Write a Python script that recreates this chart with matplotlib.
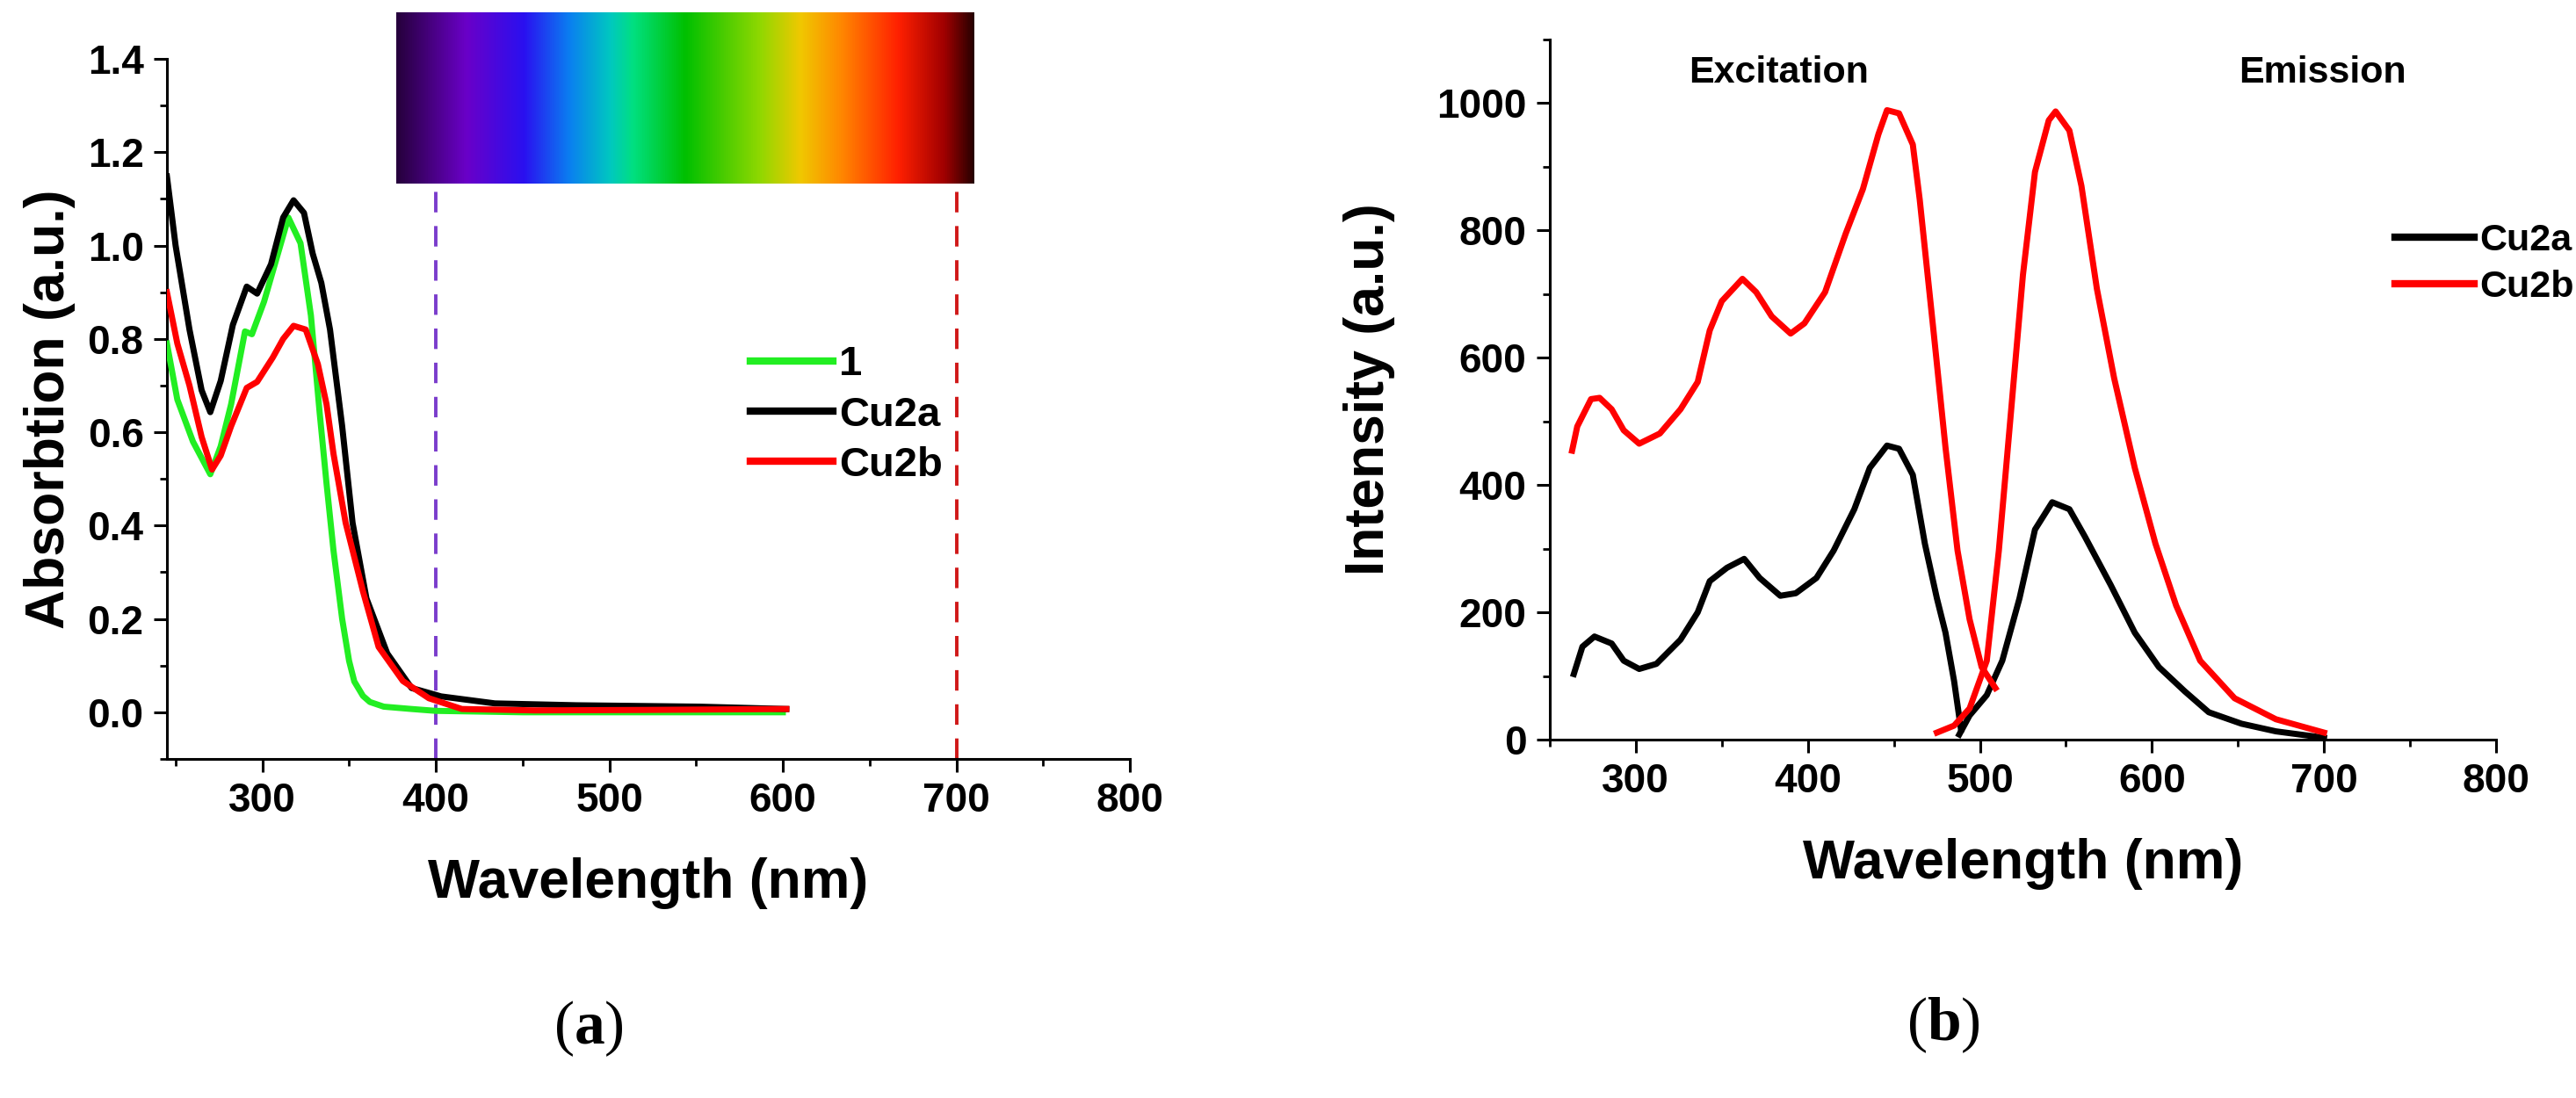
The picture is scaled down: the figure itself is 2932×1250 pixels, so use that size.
import numpy as np
import matplotlib
matplotlib.use('Agg')
import matplotlib.pyplot as plt
from matplotlib.colors import LinearSegmentedColormap
from matplotlib.ticker import MultipleLocator, FormatStrFormatter

plt.rcParams['font.family'] = ['Liberation Sans', 'DejaVu Sans']
plt.rcParams['font.weight'] = 'bold'
plt.rcParams['mathtext.fontset'] = 'custom'
plt.rcParams['mathtext.bf'] = 'Liberation Serif:bold'
plt.rcParams['mathtext.rm'] = 'Liberation Serif'

# ---- panel (a): absorption ----
wl_1 = [245, 251, 260, 270, 276, 282, 290, 294, 301, 308, 315, 322, 328, 333, 337, 341,
        346, 350, 353, 358, 362, 370, 386, 400, 450, 500, 550, 600]
abs_1 = [0.79, 0.67, 0.58, 0.51, 0.57, 0.66, 0.816, 0.81, 0.88, 0.97, 1.06, 1.005, 0.85, 0.643, 0.49, 0.347,
         0.20, 0.11, 0.066, 0.035, 0.022, 0.012, 0.007, 0.003, 0.0, 0.0, 0.0, 0.0]

wl_cu2a = [245, 250, 258, 265, 270, 276, 283, 291, 297, 305, 312, 318, 324, 329, 334, 339,
           346, 352, 360, 372, 386, 403, 434, 481, 552, 602]
abs_cu2a = [1.148, 1.00, 0.82, 0.69, 0.643, 0.71, 0.83, 0.912, 0.897, 0.96, 1.06, 1.097, 1.07, 0.983, 0.92, 0.82,
            0.613, 0.406, 0.244, 0.126, 0.052, 0.034, 0.019, 0.015, 0.012, 0.007]

wl_cu2b = [245, 251, 258, 265, 271, 276, 282, 291, 297, 306, 312, 318, 325, 332, 337, 341,
           348, 358, 367, 381, 396, 415, 457, 520, 602]
abs_cu2b = [0.90, 0.79, 0.70, 0.59, 0.52, 0.55, 0.613, 0.695, 0.708, 0.76, 0.80, 0.828, 0.82, 0.746, 0.66, 0.554,
            0.406, 0.259, 0.14, 0.067, 0.03, 0.007, 0.004, 0.005, 0.007]

spec_cols = ['#26003c', '#6a00c8', '#2a10f0', '#0a80f0', '#00c8c0', '#00e080', '#00c000',
             '#90d800', '#f0c800', '#ff8800', '#ff2000', '#a00000', '#280000']
spec_pos = [0.0, 0.12, 0.22, 0.30, 0.37, 0.41, 0.50, 0.63, 0.70, 0.77, 0.87, 0.95, 1.0]

# ---- panel (b): excitation / emission ----
ex_wl_cu2a = [264, 269, 276, 286, 293, 302, 312, 326, 336, 343, 353, 363, 372, 384, 393, 405,
              415, 427, 436, 446, 453, 461, 468, 475, 480, 485, 489]
ex_cu2a = [103, 146, 162, 151, 124, 111, 119, 157, 200, 249, 270, 284, 254, 226, 230, 254,
           297, 362, 427, 462, 457, 416, 308, 222, 168, 92, 16]
em_wl_cu2a = [488, 494, 504, 513, 523, 532, 542, 552, 561, 576, 590, 604, 619, 633, 652, 672, 700]
em_cu2a = [8, 38, 70, 124, 222, 330, 373, 362, 319, 243, 168, 114, 76, 43, 25, 13, 3]

ex_wl_cu2b = [263, 266, 274, 279, 286, 293, 302, 314, 326, 336, 343, 350, 362, 370, 379, 390,
              398, 410, 422, 432, 441, 446, 453, 461, 465, 473, 480, 487, 494, 501, 509]
ex_cu2b = [454, 492, 535, 537, 519, 486, 465, 481, 519, 562, 643, 689, 724, 703, 665, 638,
           654, 703, 795, 865, 951, 989, 984, 935, 849, 643, 459, 297, 189, 114, 81]
em_wl_cu2b = [475, 485, 494, 504, 511, 518, 525, 532, 540, 544, 552, 559, 568, 578, 590, 602,
              614, 628, 648, 672, 700]
em_cu2b = [11, 22, 49, 124, 297, 513, 730, 892, 973, 987, 957, 870, 708, 568, 427, 308,
           211, 124, 65, 32, 11]

lw = 5.0
tick_fs = 33
label_fs = 45

fig = plt.figure(figsize=(29.32, 12.5), dpi=100)


def style_axes(ax):
    for s in ['top', 'right']:
        ax.spines[s].set_visible(False)
    for s in ['left', 'bottom']:
        ax.spines[s].set_linewidth(2.2)
    ax.tick_params(which='major', direction='out', length=11, width=2.2, labelsize=tick_fs, pad=8)
    ax.tick_params(which='minor', direction='out', length=6, width=2.0)
    for t in ax.get_xticklabels() + ax.get_yticklabels():
        t.set_fontweight('bold')


# (a)
ax1 = fig.add_axes([0.0648, 0.3088, 0.3738, 0.6376])
ax1.plot(wl_1, abs_1, color='#22ee22', lw=lw, label='1', zorder=3)
ax1.plot(wl_cu2a, abs_cu2a, color='black', lw=lw, label='Cu2a', zorder=4)
ax1.plot(wl_cu2b, abs_cu2b, color='#ff0000', lw=lw, label='Cu2b', zorder=5)
ax1.axvline(400, color='#7a3ccc', lw=2.8, ls=(0, (6, 4)), zorder=2)
ax1.axvline(700, color='#d01818', lw=2.8, ls=(0, (6, 4)), zorder=2)

cmap = LinearSegmentedColormap.from_list('spec', list(zip(spec_pos, spec_cols)))
grad = np.linspace(0, 1, 512).reshape(1, -1)
ax1.imshow(grad, cmap=cmap, aspect='auto', extent=[377, 710, 1.132, 1.498],
           clip_on=False, zorder=6)

ax1.set_xlim(245, 800)
ax1.set_ylim(-0.1, 1.4)
ax1.xaxis.set_major_locator(MultipleLocator(100))
ax1.xaxis.set_minor_locator(MultipleLocator(50))
ax1.yaxis.set_major_locator(MultipleLocator(0.2))
ax1.yaxis.set_minor_locator(MultipleLocator(0.1))
ax1.yaxis.set_major_formatter(FormatStrFormatter('%.1f'))
style_axes(ax1)
ax1.set_xlabel('Wavelength (nm)', fontsize=label_fs, fontweight='bold', labelpad=30)
ax1.set_ylabel('Absorbtion (a.u.)', fontsize=label_fs, fontweight='bold', labelpad=10)
leg1 = ax1.legend(loc='upper left', bbox_to_anchor=(0.584, 0.62), frameon=False,
                  fontsize=34, handlelength=2.0, handletextpad=0.15, borderpad=0,
                  labelspacing=0.28)
for l in leg1.get_lines():
    l.set_linewidth(6)

# (b)
ax2 = fig.add_axes([0.6016, 0.3264, 0.3674, 0.6376])
ax2.plot(ex_wl_cu2a, ex_cu2a, color='black', lw=lw, label='Cu2a', zorder=3)
ax2.plot(em_wl_cu2a, em_cu2a, color='black', lw=lw, zorder=3)
ax2.plot(ex_wl_cu2b, ex_cu2b, color='#ff0000', lw=lw, label='Cu2b', zorder=4)
ax2.plot(em_wl_cu2b, em_cu2b, color='#ff0000', lw=lw, zorder=4)
ax2.set_xlim(250, 800)
ax2.set_ylim(0, 1100)
ax2.xaxis.set_major_locator(MultipleLocator(100))
ax2.xaxis.set_minor_locator(MultipleLocator(50))
ax2.yaxis.set_major_locator(MultipleLocator(200))
ax2.yaxis.set_minor_locator(MultipleLocator(100))
style_axes(ax2)
ax2.set_xlabel('Wavelength (nm)', fontsize=label_fs, fontweight='bold', labelpad=30)
ax2.set_ylabel('Intensity (a.u.)', fontsize=label_fs, fontweight='bold', labelpad=34)
ax2.text(383, 1048, 'Excitation', fontsize=31, fontweight='bold', ha='center', va='center')
ax2.text(699, 1048, 'Emission', fontsize=31, fontweight='bold', ha='center', va='center')
leg2 = ax2.legend(loc='upper left', bbox_to_anchor=(0.873, 0.765), frameon=False,
                  fontsize=31, handlelength=2.1, handletextpad=0.15, borderpad=0,
                  labelspacing=0.3)
for l in leg2.get_lines():
    l.set_linewidth(6)

# panel letters
fig.text(670 / 2932, 1 - 1171 / 1250, '(' + r'$\mathbf{a}$' + ')', fontsize=50,
         family='Liberation Serif', fontweight='normal', ha='center', va='center')
fig.text(2212 / 2932, 1 - 1167 / 1250, '(' + r'$\mathbf{b}$' + ')', fontsize=50,
         family='Liberation Serif', fontweight='normal', ha='center', va='center')

fig.savefig('out.png', dpi=100, facecolor='white')
